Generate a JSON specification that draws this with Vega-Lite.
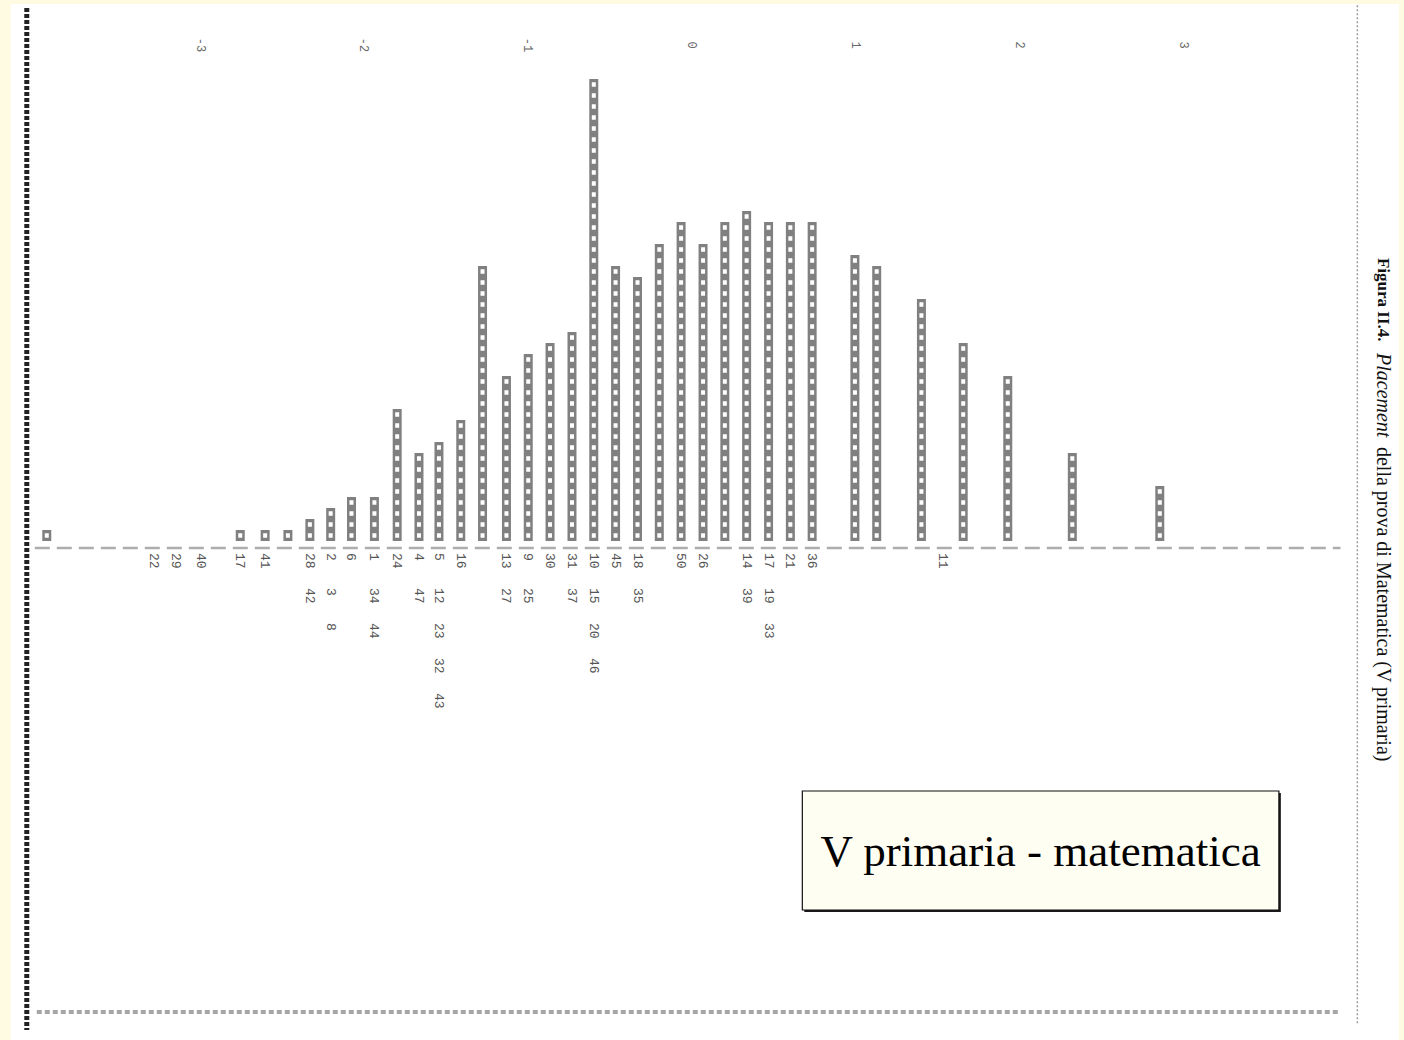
{
  "$schema": "https://vega.github.io/schema/vega-lite/v6.json",
  "width": 1404,
  "height": 1040,
  "autosize": "none",
  "padding": 0,
  "background": "#fffbe3",
  "config": {"view": {"stroke": null}},
  "datasets": {
    "persons": [
      {"m": -3.939, "n": 1}, {"m": -2.758, "n": 1}, {"m": -2.606, "n": 1}, {"m": -2.467, "n": 1},
      {"m": -2.333, "n": 2}, {"m": -2.206, "n": 3}, {"m": -2.079, "n": 4}, {"m": -1.939, "n": 4},
      {"m": -1.8, "n": 12}, {"m": -1.667, "n": 8}, {"m": -1.545, "n": 9}, {"m": -1.412, "n": 11},
      {"m": -1.279, "n": 25}, {"m": -1.133, "n": 15}, {"m": -1.0, "n": 17}, {"m": -0.867, "n": 18},
      {"m": -0.733, "n": 19}, {"m": -0.6, "n": 42}, {"m": -0.467, "n": 25}, {"m": -0.333, "n": 24},
      {"m": -0.2, "n": 27}, {"m": -0.067, "n": 29}, {"m": 0.067, "n": 27}, {"m": 0.2, "n": 29},
      {"m": 0.333, "n": 30}, {"m": 0.467, "n": 29}, {"m": 0.6, "n": 29}, {"m": 0.733, "n": 29},
      {"m": 0.994, "n": 26}, {"m": 1.127, "n": 25}, {"m": 1.4, "n": 22}, {"m": 1.655, "n": 18},
      {"m": 1.927, "n": 15}, {"m": 2.321, "n": 8}, {"m": 2.855, "n": 5}
    ],
    "items": [
      {"m": -3.285, "item": 22}, {"m": -3.152, "item": 29}, {"m": -3.0, "item": 40},
      {"m": -2.758, "item": 17}, {"m": -2.606, "item": 41},
      {"m": -2.333, "item": 28}, {"m": -2.333, "item": 42},
      {"m": -2.206, "item": 2}, {"m": -2.206, "item": 3}, {"m": -2.206, "item": 8},
      {"m": -2.079, "item": 6},
      {"m": -1.939, "item": 1}, {"m": -1.939, "item": 34}, {"m": -1.939, "item": 44},
      {"m": -1.8, "item": 24},
      {"m": -1.667, "item": 4}, {"m": -1.667, "item": 47},
      {"m": -1.545, "item": 5}, {"m": -1.545, "item": 12}, {"m": -1.545, "item": 23}, {"m": -1.545, "item": 32}, {"m": -1.545, "item": 43},
      {"m": -1.412, "item": 16},
      {"m": -1.133, "item": 13}, {"m": -1.133, "item": 27},
      {"m": -1.0, "item": 9}, {"m": -1.0, "item": 25},
      {"m": -0.867, "item": 30},
      {"m": -0.733, "item": 31}, {"m": -0.733, "item": 37},
      {"m": -0.6, "item": 10}, {"m": -0.6, "item": 15}, {"m": -0.6, "item": 20}, {"m": -0.6, "item": 46},
      {"m": -0.467, "item": 45},
      {"m": -0.333, "item": 18}, {"m": -0.333, "item": 35},
      {"m": -0.067, "item": 50},
      {"m": 0.067, "item": 26},
      {"m": 0.333, "item": 14}, {"m": 0.333, "item": 39},
      {"m": 0.467, "item": 17}, {"m": 0.467, "item": 19}, {"m": 0.467, "item": 33},
      {"m": 0.6, "item": 21},
      {"m": 0.733, "item": 36},
      {"m": 1.533, "item": 11}
    ],
    "ticks": [
      {"m": -3, "t": "-3"}, {"m": -2, "t": "-2"}, {"m": -1, "t": "-1"}, {"m": 0, "t": "0"},
      {"m": 1, "t": "1"}, {"m": 2, "t": "2"}, {"m": 3, "t": "3"}
    ]
  },
  "resolve": {"scale": {"y": "independent"}},
  "layer": [
    {
      "data": {"values": [{}]},
      "mark": {"type": "rect", "fill": "white"},
      "encoding": {
        "x": {"datum": -4.158, "type": "quantitative", "scale": {"domain": [-4.19394, 4.31515], "nice": false, "zero": false}, "axis": null},
        "x2": {"datum": 4.31515},
        "y": {"datum": 48.818, "type": "quantitative", "scale": {"domain": [-45.364, 49.182], "nice": false, "zero": false}, "axis": null},
        "y2": {"datum": -45.364}
      }
    },
    {
      "data": {"values": [{}]},
      "mark": {"type": "rule", "stroke": "#222", "strokeWidth": 5, "strokeDash": [4, 2]},
      "encoding": {
        "x": {"datum": -4.061, "type": "quantitative", "scale": {"domain": [-4.19394, 4.31515], "nice": false, "zero": false}, "axis": null},
        "y": {"datum": 48.45, "type": "quantitative", "scale": {"domain": [-45.364, 49.182], "nice": false, "zero": false}, "axis": null},
        "y2": {"datum": -44.45}
      }
    },
    {
      "data": {"values": [{}]},
      "mark": {"type": "rule", "stroke": "#9a9a9a", "strokeWidth": 1.5, "strokeDash": [2, 2]},
      "encoding": {
        "x": {"datum": 4.061, "type": "quantitative", "scale": {"domain": [-4.19394, 4.31515], "nice": false, "zero": false}, "axis": null},
        "y": {"datum": 48.7, "type": "quantitative", "scale": {"domain": [-45.364, 49.182], "nice": false, "zero": false}, "axis": null},
        "y2": {"datum": -44.0}
      }
    },
    {
      "data": {"values": [{}]},
      "mark": {"type": "rule", "stroke": "#a6a6a6", "strokeWidth": 4, "strokeDash": [5, 3]},
      "encoding": {
        "x": {"datum": -4.0, "type": "quantitative", "scale": {"domain": [-4.19394, 4.31515], "nice": false, "zero": false}, "axis": null},
        "x2": {"datum": 3.958},
        "y": {"datum": -42.82, "type": "quantitative", "scale": {"domain": [-45.364, 49.182], "nice": false, "zero": false}, "axis": null}
      }
    },
    {
      "data": {"values": [{}]},
      "mark": {"type": "rule", "stroke": "#adadad", "strokeWidth": 2.5, "strokeDash": [15, 7]},
      "encoding": {
        "x": {"datum": -4.012, "type": "quantitative", "scale": {"domain": [-4.19394, 4.31515], "nice": false, "zero": false}, "axis": null},
        "x2": {"datum": 3.958},
        "y": {"datum": -0.636, "type": "quantitative", "scale": {"domain": [-45.364, 49.182], "nice": false, "zero": false}, "axis": null}
      }
    },
    {
      "data": {"name": "persons"},
      "mark": {"type": "bar", "size": 9, "color": "#808080"},
      "encoding": {
        "x": {"field": "m", "type": "quantitative", "scale": {"domain": [-4.19394, 4.31515], "nice": false, "zero": false}, "axis": null},
        "y": {"field": "n", "type": "quantitative", "scale": {"domain": [-45.364, 49.182], "nice": false, "zero": false}, "axis": null},
        "y2": {"datum": 0}
      }
    },
    {
      "data": {"name": "persons"},
      "mark": {"type": "rule", "stroke": "white", "strokeWidth": 4, "strokeDash": [4.5, 6.5], "strokeDashOffset": 7.75},
      "encoding": {
        "x": {"field": "m", "type": "quantitative", "scale": {"domain": [-4.19394, 4.31515], "nice": false, "zero": false}, "axis": null},
        "y": {"field": "n", "type": "quantitative", "scale": {"domain": [-45.364, 49.182], "nice": false, "zero": false}, "axis": null},
        "y2": {"datum": 0}
      }
    },
    {
      "data": {"name": "items"},
      "transform": [
        {"window": [{"op": "row_number", "as": "r"}], "groupby": ["m"], "sort": [{"field": "item", "order": "ascending"}]}
      ],
      "mark": {"type": "text", "angle": 90, "align": "left", "baseline": "middle", "font": "Liberation Mono", "fontSize": 13, "fill": "#555"},
      "encoding": {
        "x": {"field": "m", "type": "quantitative", "scale": {"domain": [-4.19394, 4.31515], "nice": false, "zero": false}, "axis": null},
        "y": {"field": "r", "type": "quantitative", "scale": {"domain": [-14.8, 14.914], "reverse": true, "nice": false, "zero": false}, "axis": null},
        "text": {"field": "item", "type": "nominal"}
      }
    },
    {
      "data": {"name": "ticks"},
      "mark": {"type": "text", "angle": 90, "align": "center", "baseline": "middle", "font": "Liberation Mono", "fontSize": 12, "fill": "#666"},
      "encoding": {
        "x": {"field": "m", "type": "quantitative", "scale": {"domain": [-4.19394, 4.31515], "nice": false, "zero": false}, "axis": null},
        "y": {"datum": 45.09, "type": "quantitative", "scale": {"domain": [-45.364, 49.182], "nice": false, "zero": false}, "axis": null},
        "text": {"field": "t", "type": "nominal"}
      }
    },
    {
      "data": {"values": [{}]},
      "mark": {"type": "rect", "fill": "#1a1a1a"},
      "encoding": {
        "x": {"datum": 0.685, "type": "quantitative", "scale": {"domain": [-4.19394, 4.31515], "nice": false, "zero": false}, "axis": null},
        "x2": {"datum": 3.594},
        "y": {"datum": -22.909, "type": "quantitative", "scale": {"domain": [-45.364, 49.182], "nice": false, "zero": false}, "axis": null},
        "y2": {"datum": -33.727}
      }
    },
    {
      "data": {"values": [{}]},
      "mark": {"type": "rect", "fill": "#fffef3", "stroke": "#111", "strokeWidth": 1.2},
      "encoding": {
        "x": {"datum": 0.673, "type": "quantitative", "scale": {"domain": [-4.19394, 4.31515], "nice": false, "zero": false}, "axis": null},
        "x2": {"datum": 3.582},
        "y": {"datum": -22.727, "type": "quantitative", "scale": {"domain": [-45.364, 49.182], "nice": false, "zero": false}, "axis": null},
        "y2": {"datum": -33.545}
      }
    },
    {
      "data": {"values": [{}]},
      "mark": {"type": "text", "text": "V primaria - matematica", "align": "center", "baseline": "middle", "font": "Liberation Serif", "fontSize": 45, "fill": "#000"},
      "encoding": {
        "x": {"datum": 2.127, "type": "quantitative", "scale": {"domain": [-4.19394, 4.31515], "nice": false, "zero": false}, "axis": null},
        "y": {"datum": -28.27, "type": "quantitative", "scale": {"domain": [-45.364, 49.182], "nice": false, "zero": false}, "axis": null}
      }
    },
    {
      "data": {"values": [{}]},
      "mark": {"type": "text", "text": "Figura II.4.", "angle": 90, "align": "left", "baseline": "middle", "font": "Liberation Serif", "fontSize": 17, "fontWeight": "bold", "fill": "#111"},
      "encoding": {
        "x": {"datum": 4.218, "type": "quantitative", "scale": {"domain": [-4.19394, 4.31515], "nice": false, "zero": false}, "axis": null},
        "y": {"datum": 25.73, "type": "quantitative", "scale": {"domain": [-45.364, 49.182], "nice": false, "zero": false}, "axis": null}
      }
    },
    {
      "data": {"values": [{}]},
      "mark": {"type": "text", "text": "Placement", "angle": 90, "align": "left", "baseline": "middle", "font": "Liberation Serif", "fontSize": 20, "fontStyle": "italic", "fill": "#111"},
      "encoding": {
        "x": {"datum": 4.218, "type": "quantitative", "scale": {"domain": [-4.19394, 4.31515], "nice": false, "zero": false}, "axis": null},
        "y": {"datum": 17.09, "type": "quantitative", "scale": {"domain": [-45.364, 49.182], "nice": false, "zero": false}, "axis": null}
      }
    },
    {
      "data": {"values": [{}]},
      "mark": {"type": "text", "text": "della prova di Matematica (V primaria)", "angle": 90, "align": "left", "baseline": "middle", "font": "Liberation Serif", "fontSize": 20, "fill": "#111"},
      "encoding": {
        "x": {"datum": 4.218, "type": "quantitative", "scale": {"domain": [-4.19394, 4.31515], "nice": false, "zero": false}, "axis": null},
        "y": {"datum": 8.55, "type": "quantitative", "scale": {"domain": [-45.364, 49.182], "nice": false, "zero": false}, "axis": null}
      }
    }
  ]
}
